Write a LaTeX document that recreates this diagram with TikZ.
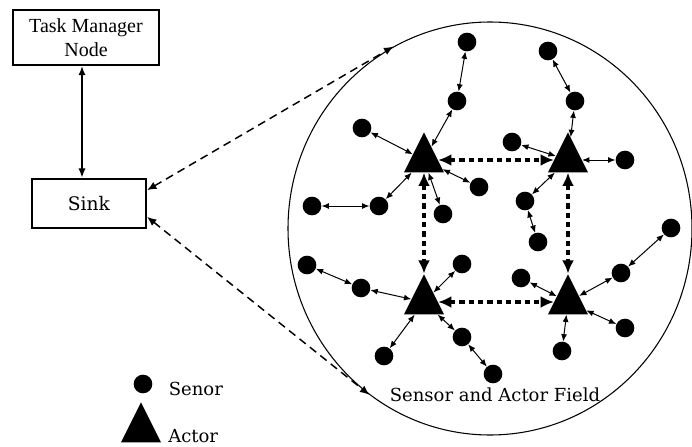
\documentclass[tikz,border=0pt]{standalone}
\usepackage{fontspec}
\setmainfont{DejaVu Serif}
\newfontfamily\timesfont{Liberation Serif}
\usepackage{tikz}
\usetikzlibrary{positioning,shapes.geometric,arrows.meta}

\begin{document}
\begin{tikzpicture}[x=0.75pt, y=-0.75pt]
    \tikzstyle{box} = [rectangle, draw, line width=1.6pt, inner sep=0pt, align=center]
    \tikzstyle{sensor} = [circle, fill, inner sep=0pt, minimum size=14pt]
    \tikzstyle{actor} = [isosceles triangle, isosceles triangle apex angle=53, shape border rotate=90, fill, inner sep=0pt, minimum height=30pt, minimum width=30pt]
    \tikzstyle{link} = [{Latex[length=5.5pt,width=4.5pt]}-{Latex[length=5.5pt,width=4.5pt]}, line width=0.75pt]
    \tikzstyle{actlink} = [{Latex[length=10pt,width=9pt]}-{Latex[length=10pt,width=9pt]}, line width=3pt, dash pattern=on 4pt off 3pt]
    \tikzstyle{sinklink} = [{Latex[length=7pt,width=6pt]}-{Latex[length=7pt,width=6pt]}, line width=1.1pt, dash pattern=on 6pt off 4pt]

    \useasboundingbox (0,0) rectangle (692,446);

    % Task manager and sink
    \node [box, minimum width=109.5pt, minimum height=41pt, font=\timesfont\fontsize{15}{18.5}\selectfont] (task) at (86,37.5) {Task Manager\\Node};
    \node [box, minimum width=85.5pt, minimum height=37pt, font=\fontsize{14}{16}\selectfont] (sink) at (89,203.5) {Sink};

    % Field
    \node [ellipse, draw, line width=0.8pt, minimum width=303pt, minimum height=309.75pt] (field) at (490,228.5) {};
    \node [font=\fontsize{13.5}{16}\selectfont, inner sep=0pt] (fieldlabel) at (495,395) {Sensor and Actor Field};

    % Actors
    \node [actor] (a1) at (424,160) {};
    \node [actor] (a2) at (568,160) {};
    \node [actor] (a3) at (424,302) {};
    \node [actor] (a4) at (568,302) {};

    % Sensors around a1
    \node [sensor] (s1) at (467,42) {};
    \node [sensor] (s2) at (457,101) {};
    \node [sensor] (s3) at (362,128) {};
    \node [sensor] (s8) at (479,187) {};
    \node [sensor] (s9) at (443,214) {};
    \node [sensor] (s10) at (312,206) {};
    \node [sensor] (s11) at (379,206) {};
    % Sensors around a2
    \node [sensor] (s4) at (548,51) {};
    \node [sensor] (s5) at (575,101) {};
    \node [sensor] (s6) at (512,142) {};
    \node [sensor] (s7) at (625,160) {};
    \node [sensor] (s12) at (525,201) {};
    \node [sensor] (s13) at (538,242) {};
    % Sensors around a3
    \node [sensor] (s15) at (307,265) {};
    \node [sensor] (s16) at (361,288) {};
    \node [sensor] (s17) at (462,264) {};
    \node [sensor] (s18) at (384,356) {};
    \node [sensor] (s19) at (462,337) {};
    \node [sensor] (s20) at (493,374) {};
    % Sensors around a4
    \node [sensor] (s14) at (671,228) {};
    \node [sensor] (s21) at (521,278) {};
    \node [sensor] (s22) at (621,273) {};
    \node [sensor] (s23) at (625,328) {};
    \node [sensor] (s24) at (562,351) {};

    % Legend
    \node [sensor] (legsensor) at (143,384) {};
    \node [right=12pt of legsensor, yshift=-4pt, inner sep=0pt, font=\fontsize{13.5}{16}\selectfont] (legsensortext) {Senor};
    \node [actor] (legactor) at (141,430) {};
    \node [anchor=west, inner sep=0pt, font=\fontsize{13.5}{16}\selectfont] (legactortext) at (168,436) {Actor};

    % Links
    \draw [<->, >={Latex[length=7pt,width=5.5pt]}, line width=1.6pt] ([xshift=-3pt]task.south) -- ([xshift=-3pt]task.south |- sink.north);
    \draw [sinklink] ([yshift=10pt]sink.east) -- (field.118.7);
    \draw [sinklink] ([yshift=-10pt]sink.east) -- (field.234.4);

    \draw [actlink] (a1) -- (a2);
    \draw [actlink] (a3) -- (a4);
    \draw [actlink] (a1) -- (a3);
    \draw [actlink] (a2) -- (a4);

    \draw [link] (s1) -- (s2);
    \draw [link] (s2) -- (a1);
    \draw [link] (s3) -- (a1);
    \draw [link] (s8) -- (a1);
    \draw [link] (s9) -- (a1);
    \draw [link] (s11) -- (a1);
    \draw [link] (s10) -- (s11);

    \draw [link] (s4) -- (s5);
    \draw [link] (s5) -- (a2);
    \draw [link] (s6) -- (a2);
    \draw [link] (s7) -- (a2);
    \draw [link] (s12) -- (a2);
    \draw [link] (s12) -- (s13);

    \draw [link] (s15) -- (s16);
    \draw [link] (s16) -- (a3);
    \draw [link] (s17) -- (a3);
    \draw [link] (s18) -- (a3);
    \draw [link] (s19) -- (a3);
    \draw [link] (s19) -- (s20);

    \draw [link] (s14) -- (s22);
    \draw [link] (s22) -- (a4);
    \draw [link] (s21) -- (a4);
    \draw [link] (s23) -- (a4);
    \draw [link] (s24) -- (a4);
\end{tikzpicture}
\end{document}
